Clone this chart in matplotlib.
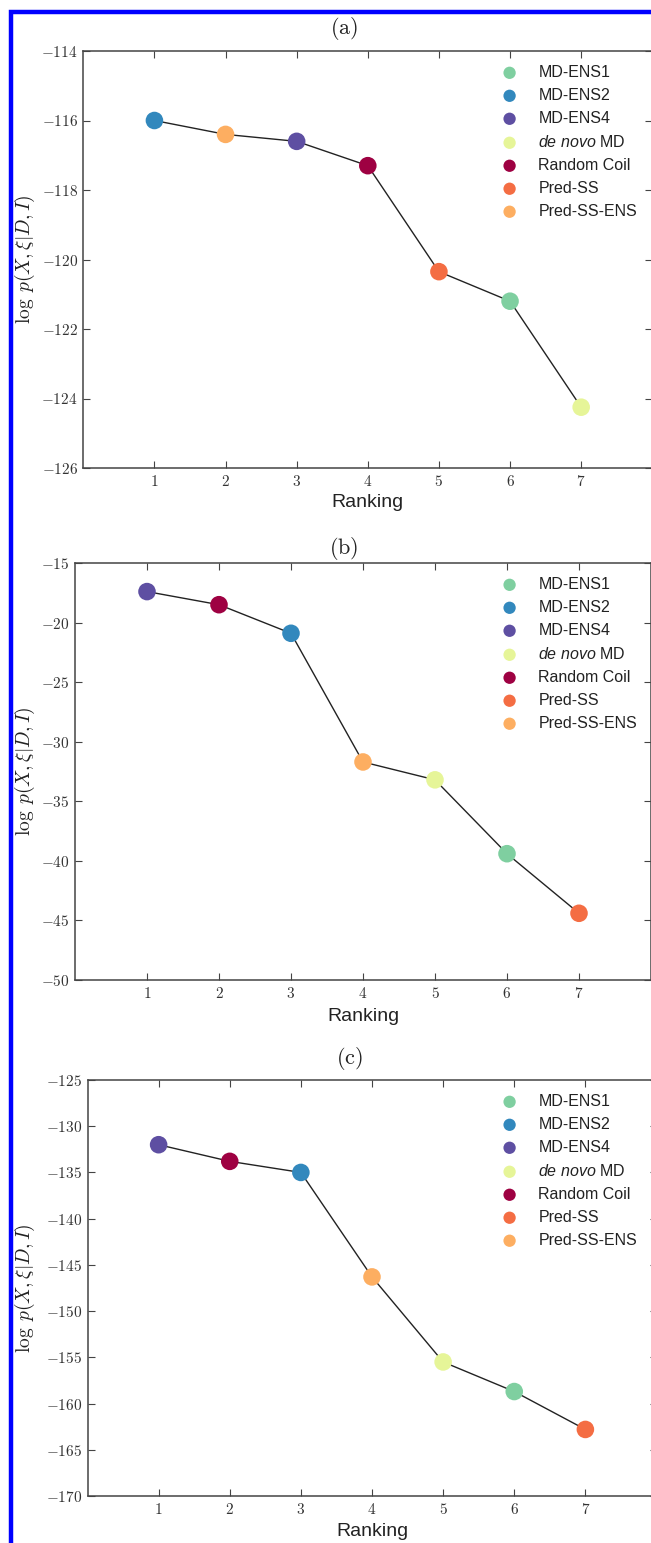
import matplotlib
matplotlib.use('Agg')
import matplotlib.pyplot as plt
from matplotlib.patches import Rectangle
from matplotlib.ticker import FuncFormatter

plt.rcParams['font.family'] = ['Liberation Sans', 'DejaVu Sans']
plt.rcParams['mathtext.fontset'] = 'cm'
plt.rcParams['mathtext.it'] = 'Liberation Sans:italic'
plt.rcParams['mathtext.rm'] = 'Liberation Sans'

# methods in legend order and their colours
methods = ['MD-ENS1', 'MD-ENS2', 'MD-ENS4', 'de novo MD', 'Random Coil', 'Pred-SS', 'Pred-SS-ENS']
colors = ['#7fcfa0', '#3288bd', '#5e4fa2', '#e6f598', '#9e0142', '#f46d43', '#fdae61']
rank = [1, 2, 3, 4, 5, 6, 7]

# panel (a)
order_a = ['MD-ENS2', 'Pred-SS-ENS', 'MD-ENS4', 'Random Coil', 'Pred-SS', 'MD-ENS1', 'de novo MD']
logp_a = [-116.0, -116.4, -116.6, -117.3, -120.35, -121.2, -124.25]
# panel (b)
order_b = ['MD-ENS4', 'Random Coil', 'MD-ENS2', 'Pred-SS-ENS', 'de novo MD', 'MD-ENS1', 'Pred-SS']
logp_b = [-17.4, -18.5, -20.9, -31.7, -33.2, -39.4, -44.4]
# panel (c)
order_c = ['MD-ENS4', 'Random Coil', 'MD-ENS2', 'Pred-SS-ENS', 'de novo MD', 'MD-ENS1', 'Pred-SS']
logp_c = [-132.0, -133.8, -135.0, -146.3, -155.5, -158.7, -162.8]

W, H = 651, 1543
fig = plt.figure(figsize=(W / 100, H / 100), dpi=100)

# pixel boxes: left, top, right, bottom
panels = [
    ('(a)', order_a, logp_a, (-126, -114), 2, (83.3, 51, 652.3, 468), (344, 29), 503),
    ('(b)', order_b, logp_b, (-50, -15), 5, (75, 563, 651, 980), (344, 548), 1017),
    ('(c)', order_c, logp_c, (-170, -125), 5, (87.5, 1080, 656.5, 1496), (349, 1058), 1532),
]

cm_fmt = FuncFormatter(lambda v, p: r'$%d$' % v)

for title, order, logp, ylim, ystep, box, tpos, xlab_y in panels:
    l, t, r, b = box
    ax = fig.add_axes([l / W, 1 - b / H, (r - l) / W, (b - t) / H])
    ax.plot(rank, logp, color='#222222', lw=1.0, zorder=1)
    for name, c in zip(methods, colors):
        xs = [x for x, o in zip(rank, order) if o == name]
        ys = [y for y, o in zip(logp, order) if o == name]
        lab = r'$de\ novo$ MD' if name == 'de novo MD' else name
        ax.scatter(xs, ys, s=160, color=c, edgecolors='none', zorder=3, label=lab)
    ax.set_xlim(0, 8)
    ax.set_ylim(*ylim)
    ax.set_xticks(rank)
    ax.set_yticks(list(range(ylim[0], ylim[1] + 1, ystep)))
    ax.xaxis.set_major_formatter(cm_fmt)
    ax.yaxis.set_major_formatter(cm_fmt)
    ax.tick_params(direction='in', top=True, right=True, length=5, width=0.8,
                   colors='#444444', labelcolor='#333333', labelsize=11, pad=4)
    for s in ax.spines.values():
        s.set_color('#444444')
        s.set_linewidth(1.1)
    ax.set_ylabel(r'$\log\; p(X,\xi|D,I)$', fontsize=14, color='#222222')
    ax.yaxis.set_label_coords((37 - l) / (r - l), 0.5)
    ax.set_xlabel('Ranking', fontsize=14, color='#222222')
    ax.xaxis.set_label_coords(0.5, -(xlab_y - 9 - b) / (b - t))
    leg = ax.legend(loc='upper left', bbox_to_anchor=((500 - l) / (r - l), 1 - 14 / (b - t)),
                    frameon=False, fontsize=11.5, scatterpoints=1, markerscale=0.7,
                    handlelength=1.2, handletextpad=1.2, labelspacing=0.5,
                    borderpad=0, borderaxespad=0)
    for txt in leg.get_texts():
        txt.set_color('#222222')
        txt.set_math_fontfamily('custom')
    fig.text(tpos[0] / W, 1 - tpos[1] / H, r'$\mathrm{' + title + '}$', fontsize=16,
             ha='center', va='center', color='#222222')

# blue frame round the figure
fig.add_artist(Rectangle((11.3 / W, -0.1), 1.2, 1.1 - 11.9 / H, transform=fig.transFigure,
                         fill=False, edgecolor='#0000ff', lw=3.2))

fig.savefig('out.png', dpi=100)
